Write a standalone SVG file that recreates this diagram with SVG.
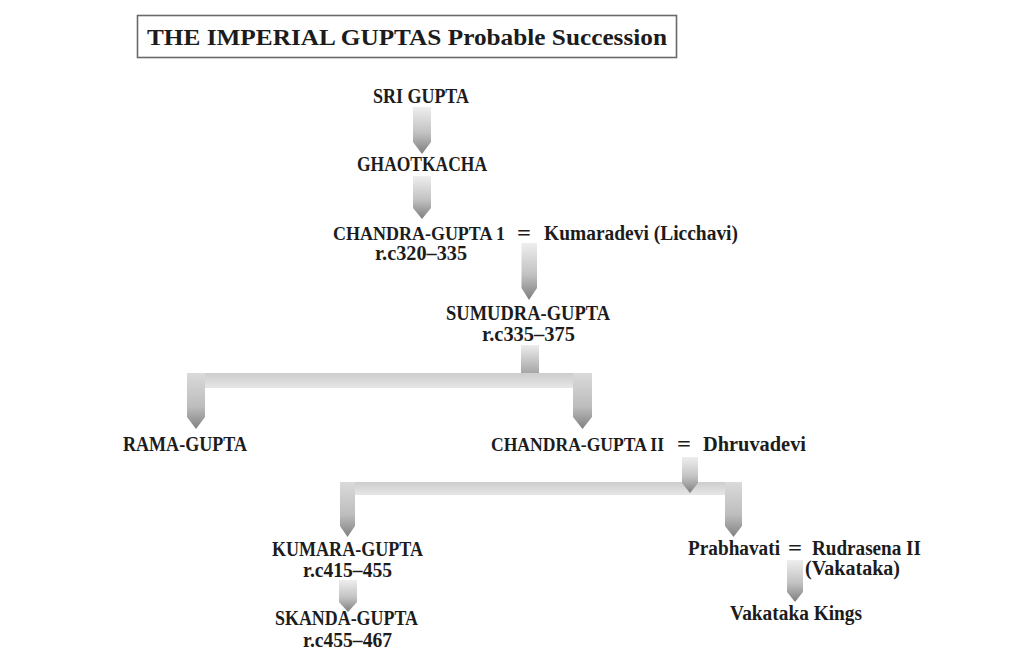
<svg xmlns="http://www.w3.org/2000/svg" width="1024" height="666" viewBox="0 0 1024 666">
  <defs>
    <linearGradient id="gArrow" x1="0" y1="0" x2="0" y2="1">
      <stop offset="0" stop-color="#eeeeee"/>
      <stop offset="0.55" stop-color="#c2c2c2"/>
      <stop offset="1" stop-color="#7e7e7e"/>
    </linearGradient>
    <linearGradient id="gStem" x1="0" y1="0" x2="0" y2="1">
      <stop offset="0" stop-color="#ececec"/>
      <stop offset="1" stop-color="#a6a6a6"/>
    </linearGradient>
    <linearGradient id="gBar" x1="0" y1="0" x2="0" y2="1">
      <stop offset="0" stop-color="#cdcdcd"/>
      <stop offset="1" stop-color="#e6e6e6"/>
    </linearGradient>
    <linearGradient id="gLeg" x1="0" y1="0" x2="0" y2="1">
      <stop offset="0" stop-color="#dadada"/>
      <stop offset="0.6" stop-color="#bdbdbd"/>
      <stop offset="1" stop-color="#808080"/>
    </linearGradient>
  </defs>
  <style>
    .lbl { font-family: "Liberation Serif", "DejaVu Serif", serif; font-weight: bold; font-size: 20px; fill: #1c1c1c; }
    .sm { font-size: 18px; }
    .ttl { font-family: "Liberation Serif", "DejaVu Serif", serif; font-weight: bold; font-size: 24px; fill: #1c1c1c; }
    .arrow { fill: url(#gArrow); }
    .stem { fill: url(#gStem); }
    .bar { fill: url(#gBar); }
    .leg { fill: url(#gLeg); }
  </style>
  <rect width="1024" height="666" fill="#ffffff"/>

  <g id="title">
    <rect x="137.5" y="15.5" width="539" height="42" fill="#ffffff" stroke="#6a6a6a" stroke-width="1.6"/>
    <text class="ttl" x="147" y="45" textLength="520" lengthAdjust="spacingAndGlyphs">THE IMPERIAL GUPTAS Probable Succession</text>
  </g>

  <g id="connectors">
    <polygon class="arrow" points="413,107 431,107 431,142 422,154 413,142"/>
    <polygon class="arrow" points="413,176 431,176 431,208 422,219 413,208"/>
    <polygon class="arrow" points="521.5,243 537,243 537,288 529,300 521.5,288"/>
    <rect class="stem" x="521" y="345" width="18" height="28"/>
    <rect class="bar" x="187" y="373" width="405" height="15"/>
    <polygon class="leg" points="187,373 205,373 205,417 196,429 187,417"/>
    <polygon class="leg" points="573,373 592,373 592,417 582.5,429 573,417"/>
    <rect class="bar" x="340" y="482" width="402" height="13"/>
    <polygon class="leg" points="340,482 355,482 355,526 347.5,537 340,526"/>
    <polygon class="leg" points="725,482 742,482 742,526 733.5,537 725,526"/>
    <polygon class="arrow" points="682,457 698,457 698,483 690,493 682,483"/>
    <polygon class="arrow" points="339,580 357,580 357,602 348,612 339,602"/>
    <polygon class="arrow" points="787,560 803,560 803,592 795,602 787,592"/>
  </g>

  <g id="sri-gupta">
    <text class="lbl" x="373" y="103" textLength="96" lengthAdjust="spacingAndGlyphs">SRI GUPTA</text>
  </g>
  <g id="ghaotkacha">
    <text class="lbl" x="357" y="171" textLength="130" lengthAdjust="spacingAndGlyphs">GHAOTKACHA</text>
  </g>
  <g id="chandra-gupta-1">
    <text class="lbl sm" x="333" y="240" textLength="172" lengthAdjust="spacingAndGlyphs">CHANDRA-GUPTA 1</text>
    <text class="lbl" x="517" y="240" textLength="14" lengthAdjust="spacingAndGlyphs">=</text>
    <text class="lbl" x="544" y="240" textLength="194" lengthAdjust="spacingAndGlyphs">Kumaradevi (Licchavi)</text>
    <text class="lbl" x="375" y="260" textLength="92" lengthAdjust="spacingAndGlyphs">r.c320–335</text>
  </g>
  <g id="sumudra-gupta">
    <text class="lbl" x="446" y="320" textLength="164" lengthAdjust="spacingAndGlyphs">SUMUDRA-GUPTA</text>
    <text class="lbl" x="482" y="341" textLength="93" lengthAdjust="spacingAndGlyphs">r.c335–375</text>
  </g>
  <g id="rama-gupta">
    <text class="lbl" x="123" y="451" textLength="124" lengthAdjust="spacingAndGlyphs">RAMA-GUPTA</text>
  </g>
  <g id="chandra-gupta-2">
    <text class="lbl sm" x="491" y="451" textLength="173" lengthAdjust="spacingAndGlyphs">CHANDRA-GUPTA II</text>
    <text class="lbl" x="677" y="451" textLength="14" lengthAdjust="spacingAndGlyphs">=</text>
    <text class="lbl" x="703" y="451" textLength="103" lengthAdjust="spacingAndGlyphs">Dhruvadevi</text>
  </g>
  <g id="kumara-gupta">
    <text class="lbl" x="272" y="556" textLength="151" lengthAdjust="spacingAndGlyphs">KUMARA-GUPTA</text>
    <text class="lbl" x="303" y="577" textLength="89" lengthAdjust="spacingAndGlyphs">r.c415–455</text>
  </g>
  <g id="skanda-gupta">
    <text class="lbl" x="275" y="625" textLength="143" lengthAdjust="spacingAndGlyphs">SKANDA-GUPTA</text>
    <text class="lbl" x="303" y="647" textLength="89" lengthAdjust="spacingAndGlyphs">r.c455–467</text>
  </g>
  <g id="prabhavati">
    <text class="lbl" x="688" y="555" textLength="92" lengthAdjust="spacingAndGlyphs">Prabhavati</text>
    <text class="lbl" x="788" y="555" textLength="14" lengthAdjust="spacingAndGlyphs">=</text>
    <text class="lbl" x="812" y="555" textLength="109" lengthAdjust="spacingAndGlyphs">Rudrasena II</text>
    <text class="lbl" x="805" y="575" textLength="95" lengthAdjust="spacingAndGlyphs">(Vakataka)</text>
  </g>
  <g id="vakataka-kings">
    <text class="lbl" x="730" y="620" textLength="132" lengthAdjust="spacingAndGlyphs">Vakataka Kings</text>
  </g>
</svg>
